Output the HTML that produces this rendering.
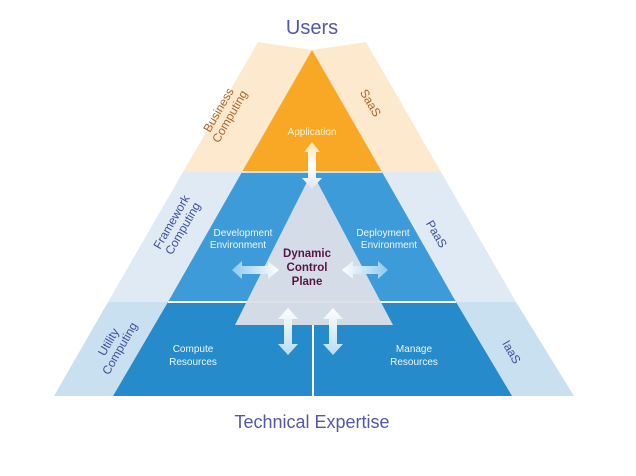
<!DOCTYPE html>
<html><head><meta charset="utf-8"><style>
html,body{margin:0;padding:0;background:#fff;}
svg{display:block;font-family:"Liberation Sans",sans-serif;}
</style></head><body>
<svg width="636" height="476" viewBox="0 0 636 476" xmlns="http://www.w3.org/2000/svg">
<defs>
<linearGradient id="av" x1="0" y1="0" x2="0" y2="1"><stop offset="0" stop-color="#ffffff"/><stop offset="1" stop-color="#b9dcf3"/></linearGradient>
<linearGradient id="av2" x1="0" y1="0" x2="0" y2="1"><stop offset="0" stop-color="#ffe2b0"/><stop offset="0.5" stop-color="#ffffff"/><stop offset="1" stop-color="#dde6ef"/></linearGradient>
<linearGradient id="ahl" x1="0" y1="0" x2="1" y2="0"><stop offset="0" stop-color="#8fc8ef"/><stop offset="1" stop-color="#ffffff"/></linearGradient>
<linearGradient id="ahr" x1="0" y1="0" x2="1" y2="0"><stop offset="0" stop-color="#ffffff"/><stop offset="1" stop-color="#8fc8ef"/></linearGradient>
</defs>
<text x="312" y="34" text-anchor="middle" font-size="20" fill="#5458a6">Users</text>
<polygon points="258,42 312,50 366,42 441,172 183,172" fill="#fde9cd"/>
<polygon points="183,172 441,172 516,302 108,302" fill="#dfeaf5"/>
<polygon points="108,302 516,302 574,396 54,396" fill="#c9e0f1"/>
<polygon points="312,50 382,172 242,172" fill="#f8a824"/>
<polygon points="242,172 382,172 456,302 168,302" fill="#3e9bd9"/>
<polygon points="168,302 456,302 512,396 113,396" fill="#258bcb"/>
<line x1="168" y1="302" x2="456" y2="302" stroke="#fff" stroke-width="2"/>
<line x1="242" y1="172" x2="382" y2="172" stroke="#fff" stroke-width="1.5"/>
<line x1="313" y1="325" x2="313" y2="396" stroke="#fff" stroke-width="2"/>
<polygon points="312,172 393,325 235,325" fill="#dbe0e7" fill-opacity="0.96"/>
<polygon points="312,142 320,152 316,152 316,178 322,178 312,189 302,178 308,178 308,152 304,152" fill="url(#av2)"/>
<polygon points="232,270 242,261 242,266 268,266 268,261 279,270 268,279 268,274 242,274 242,279" fill="url(#ahl)"/>
<polygon points="342,270 353,261 353,266 378,266 378,261 388,270 378,279 378,274 353,274 353,279" fill="url(#ahr)"/>
<polygon points="288,308 298,319 292,319 292,344 298,344 288,355 278,344 284,344 284,319 278,319" fill="url(#av)"/>
<polygon points="333,308 343,319 337,319 337,344 343,344 333,355 323,344 329,344 329,319 323,319" fill="url(#av)"/>
<g fill="#eef6fc" font-size="10" text-anchor="middle">
<text x="312" y="135" fill="#fff3dc">Application</text>
<text x="243" y="236">Development</text><text x="238" y="248">Environment</text>
<text x="383" y="236">Deployment</text><text x="389" y="248">Environment</text>
<text x="193" y="352">Compute</text><text x="193" y="365">Resources</text>
<text x="414" y="352">Manage</text><text x="414" y="365">Resources</text>
</g>
<g fill="#5a1444" font-size="11.5" font-weight="bold" text-anchor="middle">
<text x="307" y="257">Dynamic</text><text x="307" y="271">Control</text><text x="307" y="285">Plane</text>
</g>
<g font-size="12" text-anchor="middle">
<text transform="translate(222,112) rotate(-60)" fill="#a8682c"><tspan x="0" y="0">Business</tspan><tspan x="0" y="13">Computing</tspan></text>
<text transform="translate(367,105) rotate(60)" fill="#a8682c">SaaS</text>
<text transform="translate(175,224) rotate(-60)" fill="#3e4f9c"><tspan x="0" y="0">Framework</tspan><tspan x="0" y="13">Computing</tspan></text>
<text transform="translate(433,236) rotate(60)" fill="#3e4f9c">PaaS</text>
<text transform="translate(112,344) rotate(-60)" fill="#3e4f9c"><tspan x="0" y="0">Utility</tspan><tspan x="0" y="13">Computing</tspan></text>
<text transform="translate(508,354) rotate(60)" fill="#3e4f9c">IaaS</text>
</g>
<text x="312" y="428" text-anchor="middle" font-size="18" fill="#5458a6">Technical Expertise</text>
</svg>
</body></html>
